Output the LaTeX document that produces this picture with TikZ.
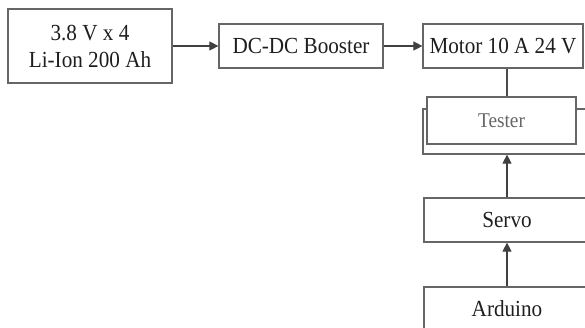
\documentclass[tikz,border=0pt]{standalone}
\usepackage{fontspec}
\setmainfont{Liberation Serif}
\newfontfamily\tfont[FakeStretch=0.92]{Liberation Serif}
\usetikzlibrary{arrows.meta}
\definecolor{boxline}{HTML}{666666}
\definecolor{txt}{HTML}{1E1E1E}
\begin{document}
\begin{tikzpicture}[x=1pt,y=-1pt,
  blk/.style={draw=boxline,line width=1.2pt,fill=white,inner sep=0pt,text=txt,
    font=\tfont\fontsize{23}{27}\selectfont,align=center},
  arr/.style={draw=black!75,line width=1.1pt,-{Triangle[length=9pt,width=9pt]}},
  ln/.style={draw=black!70,line width=1.1pt}]
\useasboundingbox (0,0) rectangle (585,327);
\clip (0,0) rectangle (585,327);
\node[blk,minimum width=164pt,minimum height=74pt] (bat) at (90,46) {3.8 V x 4\\Li-Ion 200 Ah};
\node[blk,minimum width=164pt,minimum height=44pt] (dc) at (301,46) {DC-DC Booster};
\node[blk,minimum width=160pt,minimum height=44pt] (mot) at (503,46) {Motor 10 A 24 V};
\node[draw=boxline,line width=1.2pt,minimum width=168pt,minimum height=45pt,inner sep=0pt] (outer) at (507,131.5) {};
\node[blk,minimum width=149pt,minimum height=47pt,text=black!60,font=\tfont\fontsize{21}{25}\selectfont] (tes) at (501.5,120.5) {Tester};
\node[blk,minimum width=166pt,minimum height=44pt] (srv) at (507,220) {Servo};
\node[blk,minimum width=166pt,minimum height=44pt] (ard) at (507,309) {Arduino};
\draw[arr] (bat.east) -- (dc.west);
\draw[arr] (dc.east) -- (mot.west);
\draw[ln] (mot.south -| srv.north) -- (tes.north -| srv.north);
\draw[arr] (srv.north) -- (outer.south);
\draw[arr] (ard.north) -- (srv.south);
\end{tikzpicture}
\end{document}
